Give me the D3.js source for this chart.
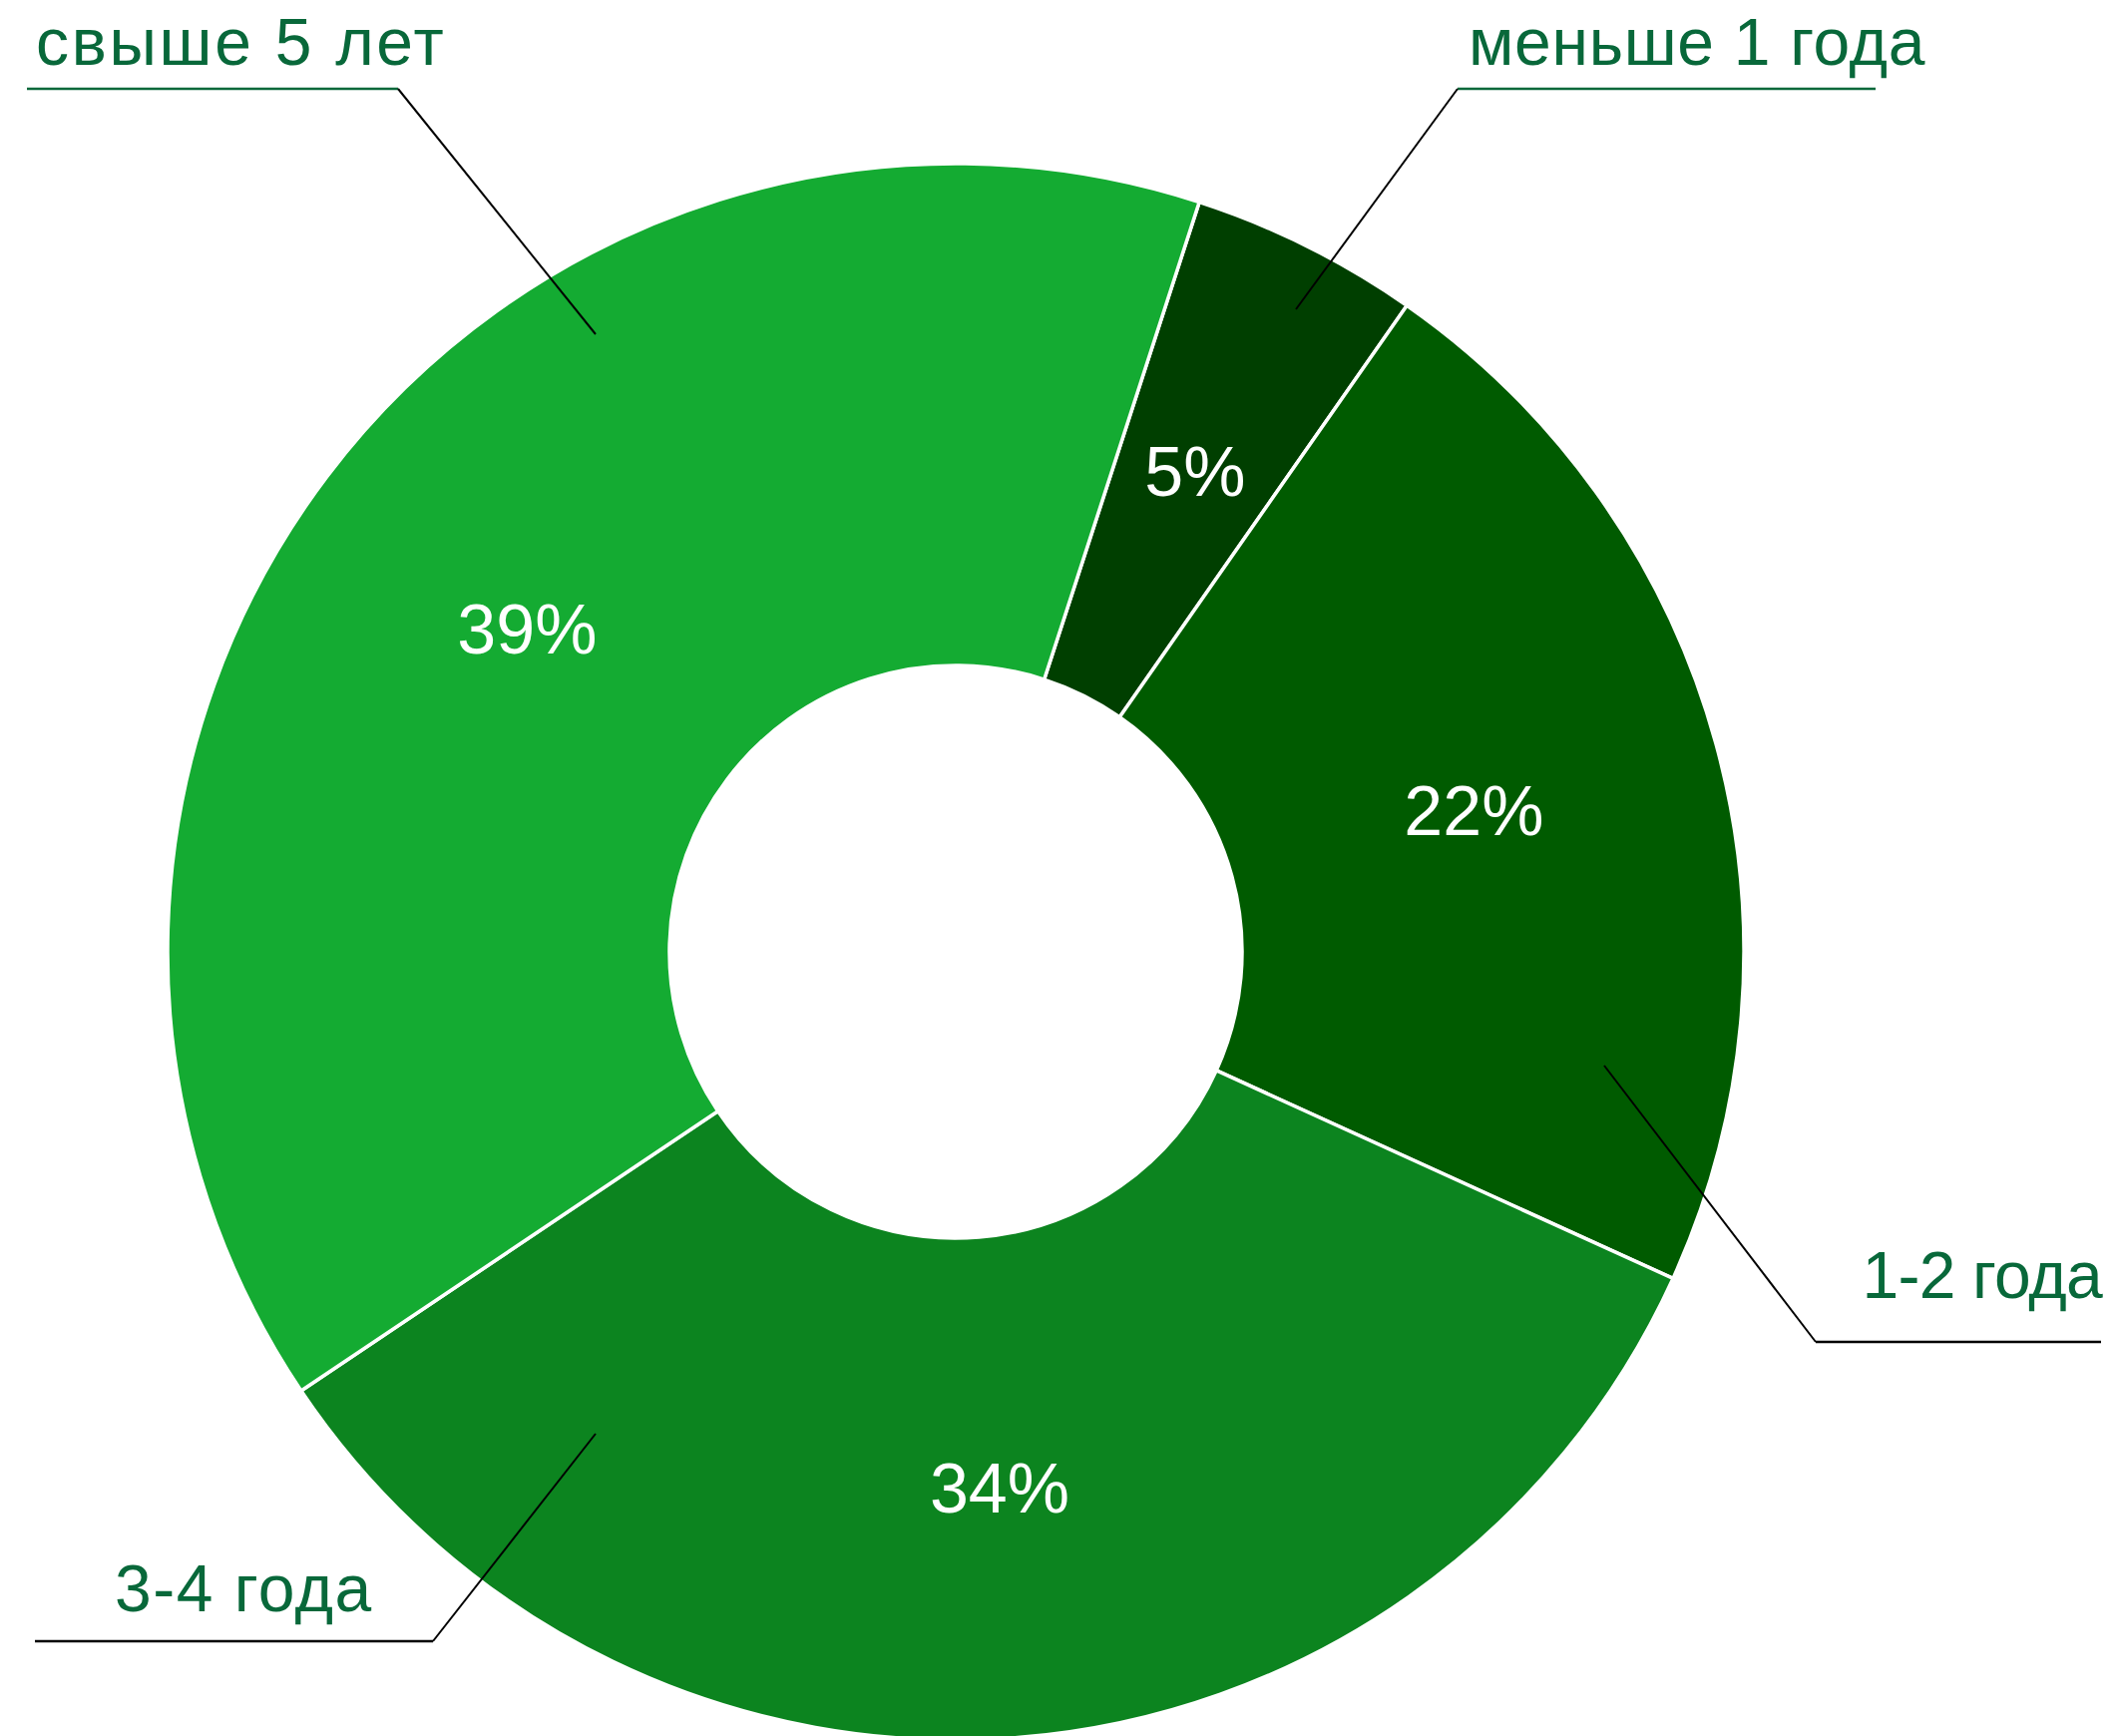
<!DOCTYPE html>
<html>
<head>
<meta charset="utf-8">
<script src="https://cdn.jsdelivr.net/npm/d3@7"></script>
<style>
  body { margin: 0; background: #fff; }
  .cat { font-family: "Liberation Sans", Arial, sans-serif; fill: #08683a; }
  .pct { font-family: "Liberation Sans", Arial, sans-serif; fill: #fff; }
</style>
</head>
<body>
<svg id="chart" width="2121" height="1740"></svg>
<script>
var categories = ["меньше 1 года", "1-2 года", "3-4 года", "свыше 5 лет"];
var shares = [4.7, 22.1, 33.8, 39.4];
var colors = ["#003f00", "#005b00", "#0c841f", "#14ab32"];

// label placement: text anchor, shelf line, and the inner end of the leader
var labelLayout = [
	{tx: 1472, ty: 65, anchor: "start", spacing: 0.7, shelf: [1880, 89], knee: [1461, 89], tip: [1299, 310], shelfColor: "#08683a"},
	{tx: 2107, ty: 1301, anchor: "end", spacing: -0.8, shelf: [2106, 1345], knee: [1820, 1345], tip: [1608, 1068], shelfColor: "#000"},
	{tx: 115, ty: 1615, anchor: "start", spacing: 1.5, shelf: [35, 1645], knee: [434, 1645], tip: [597, 1437], shelfColor: "#000"},
	{tx: 36, ty: 65, anchor: "start", spacing: 2.7, shelf: [27, 89], knee: [399, 89], tip: [597, 335], shelfColor: "#08683a"}
];

(function () {
	var svg = d3.select("#chart");
	var cx = 958, cy = 954, outerR = 790, innerR = 287;

	var data = categories.map(function (c, i) {
		return {name: c, value: shares[i], color: colors[i], layout: labelLayout[i]};
	});

	var pie = d3.pie()
		.sort(null)
		.value(function (d) { return d.value; })
		.startAngle(18 * Math.PI / 180)
		.endAngle(18 * Math.PI / 180 + 2 * Math.PI);

	var arc = d3.arc().innerRadius(innerR).outerRadius(outerR);

	var g = svg.append("g").attr("transform", "translate(" + cx + "," + cy + ")");

	var arcs = pie(data);

	g.selectAll(".slice")
		.data(arcs)
		.enter().append("path")
		.attr("class", "slice")
		.attr("d", arc)
		.attr("fill", function (d) { return d.data.color; })
		.attr("stroke", "#fff")
		.attr("stroke-width", 3.5)
		.attr("stroke-linejoin", "round");

	g.selectAll(".pct")
		.data(arcs)
		.enter().append("text")
		.attr("class", "pct")
		.attr("x", function (d) { return arc.centroid(d)[0]; })
		.attr("y", function (d) { return arc.centroid(d)[1]; })
		.attr("dy", "0.36em")
		.attr("text-anchor", "middle")
		.style("font-size", "70px")
		.text(function (d) { return Math.round(d.data.value) + "%"; });

	// leaders
	var lab = svg.append("g");
	data.forEach(function (d) {
		var L = d.layout;
		lab.append("line")
			.attr("x1", L.shelf[0]).attr("y1", L.shelf[1])
			.attr("x2", L.knee[0]).attr("y2", L.knee[1])
			.attr("stroke", L.shelfColor)
			.attr("stroke-width", 2.6);
		lab.append("line")
			.attr("x1", L.knee[0]).attr("y1", L.knee[1])
			.attr("x2", L.tip[0]).attr("y2", L.tip[1])
			.attr("stroke", "#000")
			.attr("stroke-width", 2);
		lab.append("text")
			.attr("class", "cat")
			.attr("x", L.tx)
			.attr("y", L.ty)
			.attr("text-anchor", L.anchor)
			.style("font-size", "66px")
			.style("letter-spacing", L.spacing + "px")
			.text(d.name);
	});
})();
</script>
</body>
</html>
